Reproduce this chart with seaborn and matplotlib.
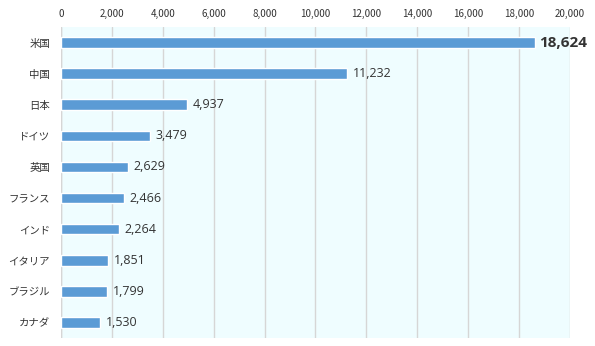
import matplotlib
matplotlib.use("Agg")
import matplotlib.pyplot as plt
import seaborn as sns
import pandas as pd

countries = ["米国", "中国", "日本", "ドイツ", "英国", "フランス", "インド", "イタリア", "ブラジル", "カナダ"]
gdp = [18624, 11232, 4937, 3479, 2629, 2466, 2264, 1851, 1799, 1530]
xticks = [0, 2000, 4000, 6000, 8000, 10000, 12000, 14000, 16000, 18000, 20000]

sns.set_theme(style="white")
plt.rcParams["font.family"] = ["Noto Sans CJK JP", "DejaVu Sans"]

df = pd.DataFrame({"country": countries, "gdp": gdp})

fig = plt.figure(figsize=(5.95, 3.46), dpi=100)
ax = fig.add_axes([0.1025, 0.023, 0.8555, 0.899])
ax.set_facecolor("#EFFDFF")

sns.barplot(data=df, x="gdp", y="country", orient="h", color="#5B9BD5",
            saturation=1, width=0.34, ax=ax, zorder=3)

ax.set_xlim(0, 20000)
ax.set_ylim(len(countries) - 0.5, -0.5)
ax.set_xticks(xticks)
ax.set_xticklabels([f"{v:,}" for v in xticks])
ax.xaxis.tick_top()
ax.tick_params(axis="x", labelsize=7, length=0, pad=6, colors="#333333")
ax.tick_params(axis="y", labelsize=7.5, length=0, pad=8, colors="#333333")
ax.grid(axis="x", color="#D6D6D6", linewidth=1, zorder=0)
ax.set_xlabel("")
ax.set_ylabel("")
for s in ax.spines.values():
    s.set_visible(False)
ax.axvline(0, color="#D6D6D6", linewidth=1, zorder=1)

for i, v in enumerate(gdp):
    if i == 0:
        ax.text(v + 150, i, f"{v:,}", va="center", ha="left", fontsize=11,
                fontweight="bold", color="#333333", family=["Open Sans", "DejaVu Sans"])
    else:
        ax.text(v + 230, i, f"{v:,}", va="center", ha="left", fontsize=9,
                color="#333333", family=["Open Sans", "DejaVu Sans"])

fig.savefig("out.png", dpi=100)
